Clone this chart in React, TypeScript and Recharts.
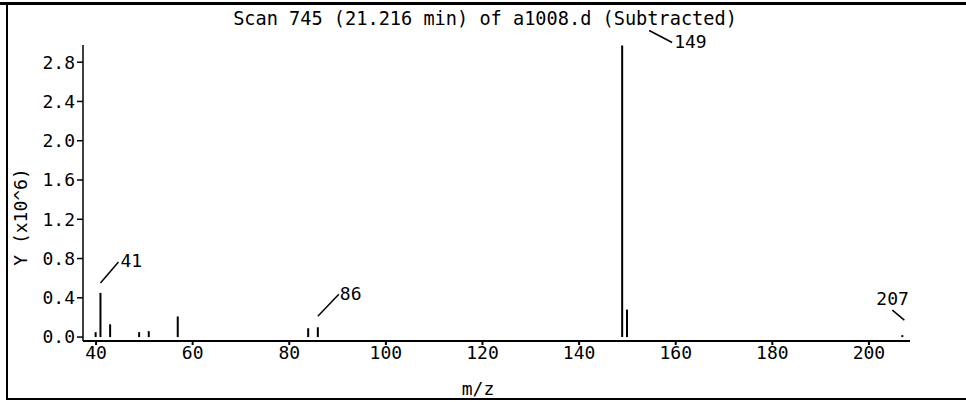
import React from 'react';
import { BarChart, Bar, XAxis, YAxis, LabelList } from 'recharts';

const mz = [40, 41, 43, 49, 51, 57, 84, 86, 149, 150, 207];
const abundance = [0.05, 0.45, 0.13, 0.05, 0.06, 0.21, 0.09, 0.1, 2.97, 0.28, 0.02];
const labelledPeaks = [41, 86, 149, 207];
const xTicks = [40, 60, 80, 100, 120, 140, 160, 180, 200];
const yTicks = [0, 0.4, 0.8, 1.2, 1.6, 2.0, 2.4, 2.8];

const data = mz.map((m, i) => ({ mz: m, y: abundance[i] }));

const font = '"DejaVu Sans Mono", monospace';

// leader line + text offsets relative to top of the peak
const leaders: Record<number, { x1: number; y1: number; x2: number; y2: number; tx: number; ty: number }> = {
  41: { x1: 0, y1: -10, x2: 18, y2: -31, tx: 20, ty: -31 },
  86: { x1: 0, y1: -11, x2: 21, y2: -33, tx: 22, ty: -32 },
  149: { x1: 27, y1: -15, x2: 50, y2: -3, tx: 52, ty: -2 },
  207: { x1: -10, y1: -25, x2: 2, y2: -15, tx: -26, ty: -35 },
};

function PeakLabel(props: any) {
  const { x, y, width, value } = props;
  if (!labelledPeaks.includes(value)) return null;
  const l = leaders[value];
  const cx = x + width / 2;
  return (
    <g>
      <line x1={cx + l.x1} y1={y + l.y1} x2={cx + l.x2} y2={y + l.y2} stroke="#000" strokeWidth={1.5} />
      <text x={cx + l.tx} y={y + l.ty} dominantBaseline="middle" fontFamily={font} fontSize={18} fill="#000">
        {value}
      </text>
    </g>
  );
}

export default function App() {
  return (
    <div style={{ position: 'absolute', left: 0, top: 0, width: 966, height: 402, background: '#fff' }}>
      <div style={{ position: 'absolute', left: 0, top: 2, width: 966, height: 0, borderTop: '3px solid #000' }} />
      <div style={{ position: 'absolute', left: 6, top: 2, width: 0, height: 398, borderLeft: '2px solid #000' }} />
      <div style={{ position: 'absolute', left: 6, top: 398, width: 960, height: 0, borderTop: '2px solid #000' }} />
      <div
        style={{
          position: 'absolute',
          left: 0,
          top: 8,
          width: 966,
          textAlign: 'center',
          fontFamily: font,
          fontSize: 18.6,
          color: '#000',
        }}
      >
        <span style={{ position: 'relative', left: 2 }}>Scan 745 (21.216 min) of a1008.d (Subtracted)</span>
      </div>
      <BarChart
        width={966}
        height={402}
        data={data}
        margin={{ top: 45, right: 56, bottom: 21, left: 0 }}
        style={{ position: 'absolute', left: 0, top: 0 }}
      >
        <XAxis
          dataKey="mz"
          type="number"
          domain={[37.3, 208.5]}
          ticks={xTicks}
          allowDataOverflow
          height={40}
          stroke="#000"
          strokeWidth={2}
          tickSize={4}
          tickMargin={1}
          tick={{ fontFamily: font, fontSize: 18, fill: '#000' }}
          label={{
            content: () => (
              <text x={478} y={390} textAnchor="middle" dominantBaseline="middle" fontFamily={font} fontSize={18} fill="#000">
                m/z
              </text>
            ),
          }}
        />
        <YAxis
          type="number"
          domain={[-0.04, 2.975]}
          ticks={yTicks}
          allowDataOverflow
          width={83}
          stroke="#000"
          strokeWidth={1.5}
          tickSize={6}
          tickMargin={2}
          tickFormatter={(v: number) => v.toFixed(1)}
          tick={{ fontFamily: font, fontSize: 18, fill: '#000' }}
          label={{
            content: () => (
              <text
                transform="translate(22,217) rotate(-90)"
                textAnchor="middle"
                dominantBaseline="middle"
                fontFamily={font}
                fontSize={18}
                fill="#000"
              >
                Y (x10^6)
              </text>
            ),
          }}
        />
        <Bar dataKey="y" fill="#000" barSize={2} isAnimationActive={false}>
          <LabelList dataKey="mz" content={<PeakLabel />} />
        </Bar>
      </BarChart>
    </div>
  );
}
